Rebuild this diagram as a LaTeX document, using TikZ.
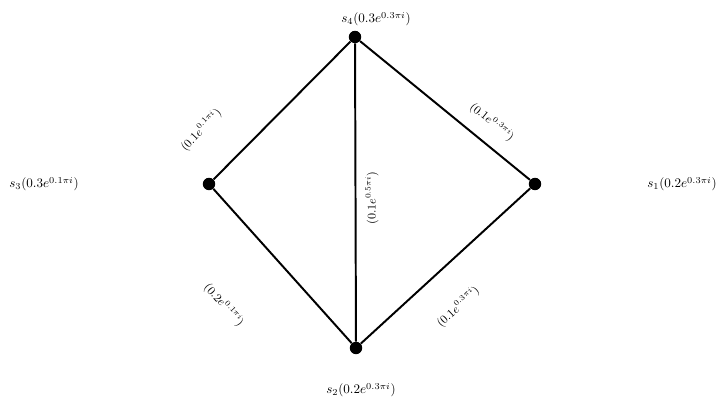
\documentclass[tikz,border=0pt]{standalone}
\usepackage{amsmath}
\usetikzlibrary{calc}
\begin{document}
\begin{tikzpicture}[x=0.765pt,y=-0.765pt,inner sep=0pt]
\tikzset{dot/.style={circle,fill,minimum size=9.5pt},
  edge/.style={line width=1.5pt},
  wt/.style={font=\small}}
\useasboundingbox (0,0) rectangle (717,399);
\node[dot] (s4) at (355, 37) {} node at ($(s4) + (21, -18)$) {$s_4(0.3e^{0.3\pi i})$};
\node[dot] (s3) at (209, 184) {} node at (44, 184) {$s_3(0.3e^{0.1\pi i})$};
\node[dot] (s1) at (535, 184) {} node at (682, 184) {$s_1(0.2e^{0.3\pi i})$};
\node[dot] (s2) at (356, 348) {} node at ($(s2) + (5, 42)$) {$s_2(0.2e^{0.3\pi i})$};

\draw[edge] (s3) -- (s4) -- (s1) -- (s2) -- (s3);
\draw[edge] (s4) -- (s2);

\node[wt,rotate=47] at (201, 130) {$(0.1e^{0.1\pi i})$};
\node[wt,rotate=-39] at (492, 122) {$(0.1e^{0.3\pi i})$};
\node[wt,rotate=90] at (372, 198) {$(0.1e^{0.5\pi i})$};
\node[wt,rotate=-48] at (224, 305) {$(0.2e^{0.1\pi i})$};
\node[wt,rotate=43] at (458, 307) {$(0.1e^{0.3\pi i})$};
\end{tikzpicture}
\end{document}
